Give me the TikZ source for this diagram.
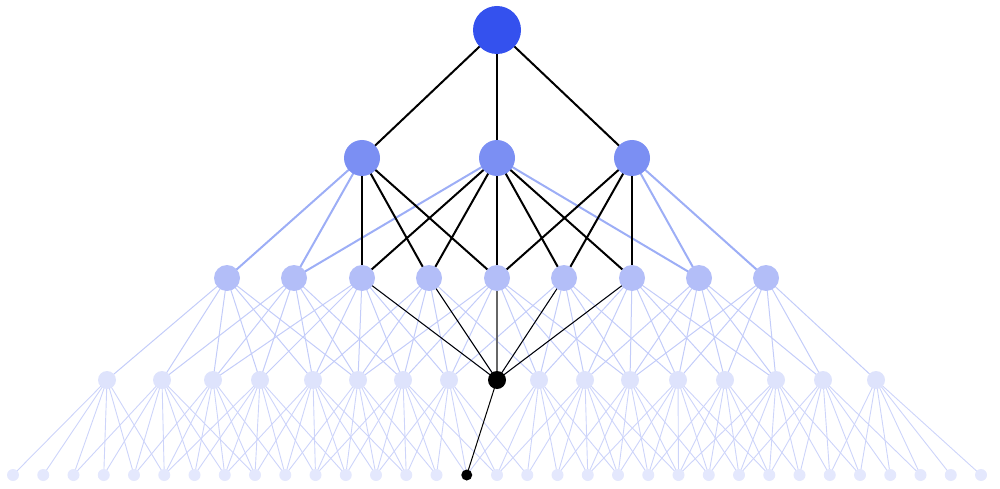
\documentclass[tikz,border=0pt]{standalone}
\definecolor{colR}{HTML}{3451EE}
\definecolor{colA}{HTML}{7B8FF3}
\definecolor{colB}{HTML}{B3BEF8}
\definecolor{colC}{HTML}{DEE3FC}
\definecolor{colD}{HTML}{E4E8FD}
\definecolor{edgeAB}{HTML}{9DAEF6}
\definecolor{edgeBC}{HTML}{C3CCF9}
\definecolor{edgeCD}{HTML}{CDD4FA}
\pgfdeclarelayer{edges}
\pgfsetlayers{edges,main}
\tikzset{
  nd/.style={circle, inner sep=0pt, draw=none},
  lr/.style={nd, fill=colR, minimum size=48pt},
  la/.style={nd, fill=colA, minimum size=36pt},
  lb/.style={nd, fill=colB, minimum size=26pt},
  lc/.style={nd, fill=colC, minimum size=18pt},
  ld/.style={nd, fill=colD, minimum size=12pt},
  lcblack/.style={nd, fill=black, minimum size=18pt},
  ldblack/.style={nd, fill=black, minimum size=11pt},
  ecd/.style={draw=edgeCD, line width=0.9pt},
  ebc/.style={draw=edgeBC, line width=1pt},
  eab/.style={draw=edgeAB, line width=2pt},
  hithick/.style={draw=black, line width=2pt},
  hithin/.style={draw=black, line width=1pt},
  hivert/.style={draw=black!60, line width=2.2pt},
}
\begin{document}
\begin{tikzpicture}[x=1pt,y=-1pt]
\useasboundingbox (0,0) rectangle (1000,489);
% nodes
\node[lr] (r) at (497,30) {};
\foreach \x [count=\i from 0] in {362,497,632}
  \node[la] (a\i) at (\x,158) {};
\foreach \x [count=\i from 0] in {227,294,362,429,497,564,632,699,766}
  \node[lb] (b\i) at (\x,278) {};
\foreach \i/\x in {0/107,1/162,2/213,3/260,4/313,5/358,6/403,7/449,9/539,10/585,11/630,12/678,13/725,14/776,15/823,16/876}
  \node[lc] (c\i) at (\x,380) {};
\node[lcblack] (c8) at (497,380) {};
\foreach \i in {0,...,32}{
  \pgfmathsetmacro\xx{13+30.25*\i}
  \ifnum\i=15
    \node[ldblack] (d\i) at (\xx,475) {};
  \else
    \node[ld] (d\i) at (\xx,475) {};
  \fi
}
\begin{pgfonlayer}{edges}
% level 3 -> level 4
\foreach \j/\a/\b in {0/0/5,1/2/8,2/4/9,3/5/11,4/7/13,5/9/14,6/10/16,7/12/17,9/15/20,10/16/22,11/18/23,12/19/25,13/21/26,14/22/28,15/24/30,16/27/32}
  \foreach \k in {\a,...,\b}
    \draw[ecd] (c\j.center) -- (d\k.center);
% level 2 -> level 3
\foreach \j/\a/\b in {0/0/5,1/1/6,2/2/8,3/4/9,4/5/11,5/7/12,6/8/14,7/10/15,8/11/16}
  \foreach \k in {\a,...,\b}
    \draw[ebc] (b\j.center) -- (c\k.center);
% level 1 -> level 2 (blue)
\draw[eab] (a0.center) -- (b0.center);
\draw[eab] (a0.center) -- (b1.center);
\draw[eab] (a1.center) -- (b1.center);
\draw[eab] (a1.center) -- (b7.center);
\draw[eab] (a2.center) -- (b7.center);
\draw[eab] (a2.center) -- (b8.center);
% highlighted ancestry
\foreach \k in {0,1,2}
  \draw[hithick] (r.center) -- (a\k.center);
\foreach \k in {2,3,4}
  \draw[hithick] (a0.center) -- (b\k.center);
\foreach \k in {2,3,4,5,6}
  \draw[hithick] (a1.center) -- (b\k.center);
\foreach \k in {4,5,6}
  \draw[hithick] (a2.center) -- (b\k.center);
\foreach \k in {2,3,5,6}
  \draw[hithin] (b\k.center) -- (c8.center);
\draw[hivert] (b4.center) -- (c8.center);
\draw[hithin] (c8.center) -- (d15.center);
\end{pgfonlayer}
\end{tikzpicture}
\end{document}
